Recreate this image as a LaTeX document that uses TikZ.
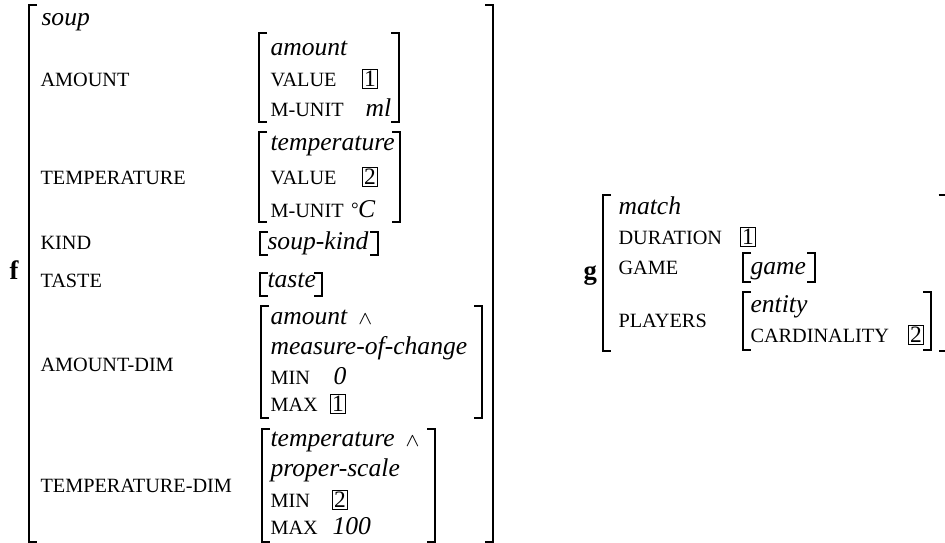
\documentclass[tikz,border=0pt]{standalone}
\usepackage{fontspec}
\setmainfont{Liberation Serif}
\usepackage{tikz}

% draws the two brackets of one matrix: left x, top y, right x, bottom y
\newcommand{\avmbrk}[4]{%
  \draw[brk] (#1+8,#2) -- (#1,#2) -- (#1,#4) -- (#1+8,#4);
  \draw[brk] (#3-8,#2) -- (#3,#2) -- (#3,#4) -- (#3-8,#4);}

\begin{document}
\fontsize{10pt}{12pt}\selectfont
\begin{tikzpicture}[
      x=0.375pt, y=-0.375pt,
      brk/.style={line width=0.9pt},
      attr/.style={font=\fontsize{7.6pt}{9pt}\selectfont, anchor=base west, inner sep=0pt},
      typ/.style={font=\fontsize{9.6pt}{12pt}\selectfont\itshape, anchor=base west, inner sep=0pt},
      tag/.style={draw, line width=0.4pt, inner sep=0.6pt, font=\fontsize{8.8pt}{10pt}\selectfont, anchor=base west},
      avmname/.style={font=\bfseries, anchor=base west, inner sep=0pt}
    ]
    \useasboundingbox (0,0) rectangle (945,543);

    % --- f: soup ---
    \begin{scope}
      \node[avmname] (f) at (9,280) {f};
      \avmbrk{29}{5}{493}{542}
      \node[typ] (fSoup) at (41,26) {soup};
      \node[attr] (fAm) at (40,87) {AMOUNT};
      \avmbrk{259}{33}{399}{122}
      \node[typ] (fAmTyp) at (270,56) {amount};
      \node[attr] (fAmVal) at (270,87) {VALUE};
      \node[tag] (fAmTag) at (362,87) {1};
      \node[attr] (fAmUnit) at (270,117) {M-UNIT};
      \node[typ] (fAmMl) at (365,117) {ml};
      \node[attr] (fTemp) at (40,185) {TEMPERATURE};
      \avmbrk{259}{132}{400}{222}
      \node[typ] (fTempTyp) at (270,151) {temperature};
      \node[attr] (fTempVal) at (270,185) {VALUE};
      \node[tag] (fTempTag) at (362,185) {2};
      \node[attr] (fTempUnit) at (270,218) {M-UNIT};
      \node[typ] (fTempC) at (350,218) {\raisebox{1pt}{\scriptsize°}C};
      \node[attr] (fKind) at (40,250) {KIND};
      \avmbrk{260}{232}{378}{255}
      \node[typ] (fKindTyp) at (267,250) {soup-kind};
      \node[attr] (fTaste) at (40,288) {TASTE};
      \avmbrk{260}{273}{322}{296}
      \node[typ] (fTasteTyp) at (267,288) {taste};
      \node[attr] (fAmDim) at (40,372) {AMOUNT-DIM};
      \avmbrk{261}{306}{482}{418}
      \node[typ] (fAmDimTyp) at (270,325) {amount \,$\scriptstyle\wedge$};
      \node[typ] (fAmDimTyp2) at (270,355) {measure-of-change};
      \node[attr] (fAmDimMin) at (270,385) {MIN};
      \node[typ] (fAmDimZero) at (333,385) {0};
      \node[attr] (fAmDimMax) at (270,412) {MAX};
      \node[tag] (fAmDimTag) at (330,412) {1};
      \node[attr] (fTempDim) at (40,493) {TEMPERATURE-DIM};
      \avmbrk{262}{429}{435}{542}
      \node[typ] (fTempDimTyp) at (270,447) {temperature \,$\scriptstyle\wedge$};
      \node[typ] (fTempDimTyp2) at (270,477) {proper-scale};
      \node[attr] (fTempDimMin) at (270,508) {MIN};
      \node[tag] (fTempDimTag) at (332,508) {2};
      \node[attr] (fTempDimMax) at (270,535) {MAX};
      \node[typ] (fTempDimHund) at (332,535) {100};
    \end{scope}

    % --- g: match ---
    \begin{scope}
      \node[avmname] (g) at (583,280) {g};
      \avmbrk{603}{195}{946.5}{351}
      \node[typ] (gMatch) at (618,215) {match};
      \node[attr] (gDur) at (618,245) {DURATION};
      \node[tag] (gDurTag) at (740,245) {1};
      \node[attr] (gGame) at (618,275) {GAME};
      \avmbrk{743}{253}{815}{282}
      \node[typ] (gGameTyp) at (750,275) {game};
      \node[attr] (gPlay) at (618,328) {PLAYERS};
      \avmbrk{743}{292}{931}{350}
      \node[typ] (gPlayTyp) at (750,313) {entity};
      \node[attr] (gCard) at (750,343) {CARDINALITY};
      \node[tag] (gCardTag) at (908,343) {2};
    \end{scope}
  \end{tikzpicture}
\end{document}
